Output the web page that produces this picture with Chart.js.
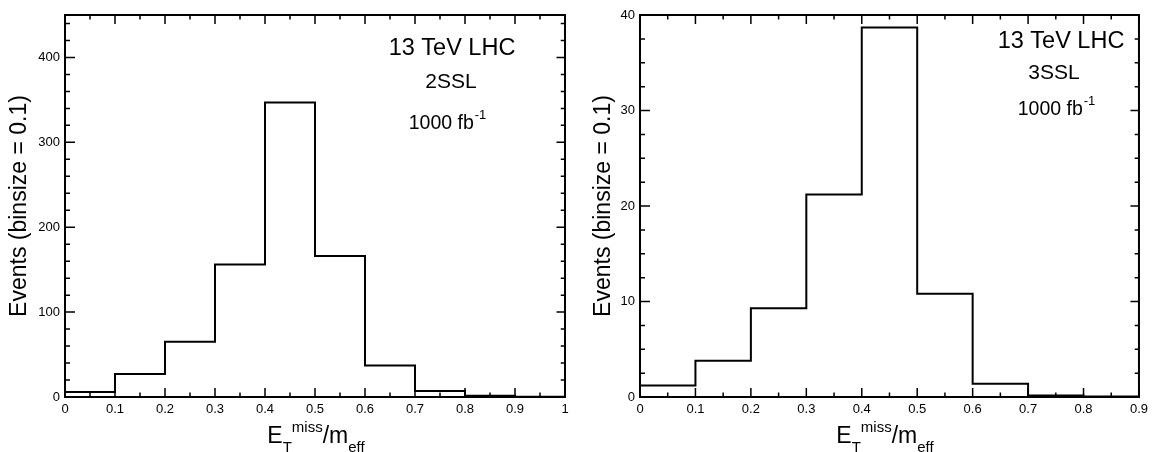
<!DOCTYPE html>
<html lang="en">
<head>
<meta charset="UTF-8">
<title>ETmiss / meff</title>
<script src="https://cdn.jsdelivr.net/npm/chart.js"></script>
<style>
  body { margin: 0; background: #fff; width: 1153px; height: 452px; overflow: hidden; position: relative; }
  .panel { position: absolute; top: 0; height: 452px; }
</style>
</head>
<body>
<div class="panel" style="left:0;width:576px"><canvas id="c2" width="576" height="452"></canvas></div>
<div class="panel" style="left:576px;width:577px"><canvas id="c3" width="577" height="452"></canvas></div>
<script>
// bin edges and events per bin
const edges2SSL = [0, 0.1, 0.2, 0.3, 0.4, 0.5, 0.6, 0.7, 0.8, 0.9, 1.0];
const events2SSL = [6, 27, 65, 156, 347, 166, 37, 7, 1.5, 0.4];

const edges3SSL = [0, 0.1, 0.2, 0.3, 0.4, 0.5, 0.6, 0.7, 0.8, 0.9];
const events3SSL = [1.2, 3.8, 9.3, 21.2, 38.7, 10.8, 1.4, 0.17, 0.05];

const FONT = 'Liberation Sans, Arial, Helvetica, sans-serif';

// step points: left edge of each bin, plus the last right edge
function histPoints(edges, counts) {
  const pts = counts.map((c, i) => ({ x: edges[i], y: c }));
  pts.push({ x: edges[edges.length - 1], y: counts[counts.length - 1] });
  return pts;
}

function fmt(v) {
  if (Math.abs(v) < 1e-9) return '0';
  if (Math.abs(v - Math.round(v)) < 1e-9) return String(Math.round(v));
  return v.toFixed(1);
}

// ROOT style frame: inner ticks on all four sides, labels in the pad
const rootFrame = {
  id: 'rootFrame',
  afterDatasetsDraw(chart, args, opts) {
    const { ctx, chartArea: a, scales: { x, y } } = chart;
    ctx.save();
    ctx.strokeStyle = '#000';
    ctx.lineWidth = 1.5;

    let n = Math.floor((x.max - x.min) / opts.xMinor + 1e-6);
    let every = Math.round(opts.xMajor / opts.xMinor);
    for (let i = 0; i <= n; i++) {
      const px = x.getPixelForValue(x.min + i * opts.xMinor);
      const len = i % every === 0 ? 9 : 4.5;
      ctx.beginPath();
      ctx.moveTo(px, a.bottom); ctx.lineTo(px, a.bottom - len);
      ctx.moveTo(px, a.top); ctx.lineTo(px, a.top + len);
      ctx.stroke();
    }
    n = Math.floor((y.max - y.min) / opts.yMinor + 1e-6);
    every = Math.round(opts.yMajor / opts.yMinor);
    for (let i = 0; i <= n; i++) {
      const py = y.getPixelForValue(y.min + i * opts.yMinor);
      const len = i % every === 0 ? 10 : 5;
      ctx.beginPath();
      ctx.moveTo(a.left, py); ctx.lineTo(a.left + len, py);
      ctx.moveTo(a.right, py); ctx.lineTo(a.right - len * 0.85, py);
      ctx.stroke();
    }

    ctx.lineWidth = 2;
    ctx.strokeRect(a.left, a.top, a.right - a.left, a.bottom - a.top);

    // annotation texts
    ctx.fillStyle = '#000';
    ctx.textBaseline = 'alphabetic';
    ctx.textAlign = 'center';
    ctx.font = '23.5px ' + FONT;
    ctx.fillText('13 TeV LHC', opts.lhc[0], opts.lhc[1]);
    ctx.font = '21px ' + FONT;
    ctx.fillText(opts.channel, opts.chan[0], opts.chan[1]);

    ctx.textAlign = 'left';
    ctx.font = '19.5px ' + FONT;
    const w1 = ctx.measureText('1000 fb').width;
    ctx.font = '13px ' + FONT;
    const w2 = ctx.measureText('-1').width;
    let sx = opts.lumi[0] - (w1 + w2) / 2;
    ctx.font = '19.5px ' + FONT;
    ctx.fillText('1000 fb', sx, opts.lumi[1]);
    ctx.font = '13px ' + FONT;
    ctx.fillText('-1', sx + w1 + 1, opts.lumi[1] - 10);

    // x axis title E_T^miss / m_eff
    const parts = [
      { t: 'E', s: 23, dy: 0 },
      { t: 'T', s: 15, dy: 9 },
      { t: 'miss', s: 15, dy: -11 },
      { t: '/m', s: 23, dy: 0 },
      { t: 'eff', s: 15, dy: 9 }
    ];
    let total = 0;
    parts.forEach(p => { ctx.font = p.s + 'px ' + FONT; p.w = ctx.measureText(p.t).width; total += p.w; });
    sx = opts.xTitle[0] - total / 2;
    parts.forEach(p => {
      ctx.font = p.s + 'px ' + FONT;
      ctx.fillText(p.t, sx, opts.xTitle[1] + p.dy);
      sx += p.w;
    });
    ctx.restore();
  }
};

function makeHist(id, edges, counts, yMax, yStep, yMinor, frameOpts, titlePad, yAxisWidth) {
  const xMax = edges[edges.length - 1];
  return new Chart(document.getElementById(id), {
    type: 'line',
    data: {
      datasets: [{
        data: histPoints(edges, counts),
        stepped: true,
        borderColor: '#000',
        borderWidth: 2,
        pointRadius: 0,
        fill: false,
        clip: false
      }]
    },
    options: {
      responsive: false,
      animation: false,
      layout: { padding: { left: 0, top: 15, right: 11, bottom: 0 } },
      plugins: {
        legend: { display: false },
        tooltip: { enabled: false },
        rootFrame: Object.assign({ xMajor: 0.1, xMinor: 0.05, yMajor: yStep, yMinor: yMinor }, frameOpts)
      },
      scales: {
        x: {
          type: 'linear',
          min: 0,
          max: xMax,
          afterFit(s) { s.height = 55; },
          grid: { display: false, drawTicks: false },
          border: { display: false },
          ticks: {
            stepSize: 0.1,
            padding: 5,
            maxRotation: 0,
            autoSkip: false,
            color: '#000',
            font: { family: FONT, size: 13 },
            callback: v => fmt(v)
          }
        },
        y: {
          type: 'linear',
          min: 0,
          max: yMax,
          afterFit(s) { s.width = yAxisWidth; },
          afterBuildTicks(s) {
            s.ticks = s.ticks.filter(t => Math.abs(t.value / yStep - Math.round(t.value / yStep)) < 1e-6);
          },
          grid: { display: false, drawTicks: false },
          border: { display: false },
          ticks: {
            stepSize: yStep,
            padding: 5,
            color: '#000',
            font: { family: FONT, size: 13 },
            callback: v => fmt(v)
          },
          title: {
            display: true,
            text: 'Events (binsize = 0.1)',
            color: '#000',
            font: { family: FONT, size: 23 },
            padding: { top: titlePad, bottom: 0 }
          }
        }
      }
    },
    plugins: [rootFrame]
  });
}

makeHist('c2', edges2SSL, events2SSL, 450, 100, 20,
  { channel: '2SSL', lhc: [452, 55], chan: [451, 88], lumi: [447, 129], xTitle: [316, 443] }, 6, 65);

makeHist('c3', edges3SSL, events3SSL, 40, 10, 2.5,
  { channel: '3SSL', lhc: [485, 48], chan: [478, 79], lumi: [480, 115], xTitle: [309, 443] }, 14, 64);
</script>
</body>
</html>
